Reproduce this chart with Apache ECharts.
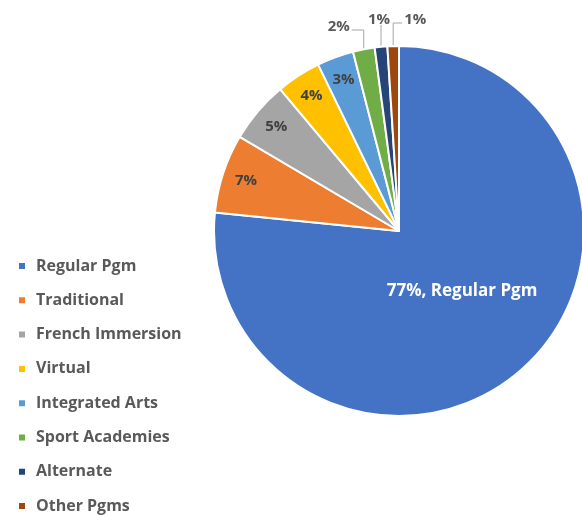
<!DOCTYPE html>
<html>
<head>
<meta charset="utf-8">
<script src="https://cdn.jsdelivr.net/npm/echarts@6/dist/echarts.min.js"></script>
<style>
  html, body { margin: 0; padding: 0; background: #fff; }
  #main { width: 582px; height: 517px; }
</style>
</head>
<body>
<div id="main"></div>
<script>
  // program shares
  var categories = ['Regular Pgm', 'Traditional', 'French Immersion', 'Virtual',
                    'Integrated Arts', 'Sport Academies', 'Alternate', 'Other Pgms'];
  var shares = [76.6, 6.9, 5.4, 3.9, 3.2, 1.9, 1.1, 1.0];
  var colors = ['#4472C4', '#ED7D31', '#A5A5A5', '#FFC000',
                '#5B9BD5', '#70AD47', '#264478', '#9E480E'];

  var cx = 399, cy = 231, R = 185;
  var font = 'Open Sans';

  // mid angle of each slice, clockwise from 12 o'clock
  var total = shares.reduce(function (a, b) { return a + b; }, 0);
  var midAngles = [];
  var acc = 0;
  shares.forEach(function (v) {
    midAngles.push((acc + v / 2) / total * Math.PI * 2);
    acc += v;
  });

  function pt(i, r) {
    return [cx + r * Math.sin(midAngles[i]), cy - r * Math.cos(midAngles[i])];
  }

  var charts = echarts.init(document.getElementById('main'));

  var data = shares.map(function (v, i) {
    var item = { name: categories[i], value: v };
    if (i >= 5) {
      item.label = { position: 'outside', color: '#595959' };
      item.labelLine = { show: true };
    }
    return item;
  });
  data[0].label = {
    color: '#fff',
    fontSize: 17,
    formatter: function (p) { return Math.round(p.percent) + '%, ' + p.name; }
  };

  charts.setOption({
    color: colors,
    animation: false,
    legend: {
      orient: 'vertical',
      left: 17,
      top: 258,
      height: 259,
      padding: 0,
      icon: 'rect',
      itemWidth: 8,
      itemHeight: 8,
      itemGap: 18.3,
      textStyle: {
        color: '#595959', fontSize: 16, fontWeight: 'bold', fontFamily: font,
        lineHeight: 16, padding: [0, 0, 0, 5]
      },
      data: categories
    },
    series: [{
      type: 'pie',
      center: [cx, cy],
      radius: [0, R],
      startAngle: 90,
      clockwise: true,
      avoidLabelOverlap: false,
      itemStyle: { borderColor: '#fff', borderWidth: 2 },
      label: {
        show: true,
        position: 'inside',
        color: '#404040',
        fontSize: 15,
        fontWeight: 'bold',
        fontFamily: font,
        formatter: function (p) { return Math.round(p.percent) + '%'; }
      },
      labelLine: {
        show: false,
        lineStyle: { color: '#a6a6a6', width: 1 }
      },
      emphasis: { disabled: true },
      data: data,
      labelLayout: function (params) {
        var i = params.dataIndex;
        if (i === 0) {
          var c0 = pt(0, R * 0.46);
          return { x: c0[0] + 6, y: c0[1] - 3, align: 'center', verticalAlign: 'middle' };
        }
        if (i < 5) {
          var c = pt(i, R * 0.87);
          return { x: c[0], y: c[1], align: 'center', verticalAlign: 'middle' };
        }
        // small slices: leader up from the rim, then sideways
        var e = pt(i, R);
        var topY = [0, 0, 0, 0, 0, 30, 25, 23][i];
        var side = [0, 0, 0, 0, 0, -12, 0, 9][i];
        var p1 = [e[0], topY];
        var p2 = [e[0] + side, topY];
        if (side === 0) {
          return { x: e[0] - 2, y: topY + 2, align: 'center', verticalAlign: 'bottom',
                   labelLinePoints: [e, p1, p1] };
        }
        return {
          x: p2[0] + (side < 0 ? -2 : 2), y: topY - 3,
          align: side < 0 ? 'right' : 'left', verticalAlign: 'middle',
          labelLinePoints: [e, p1, p2]
        };
      }
    }]
  });
</script>
</body>
</html>
